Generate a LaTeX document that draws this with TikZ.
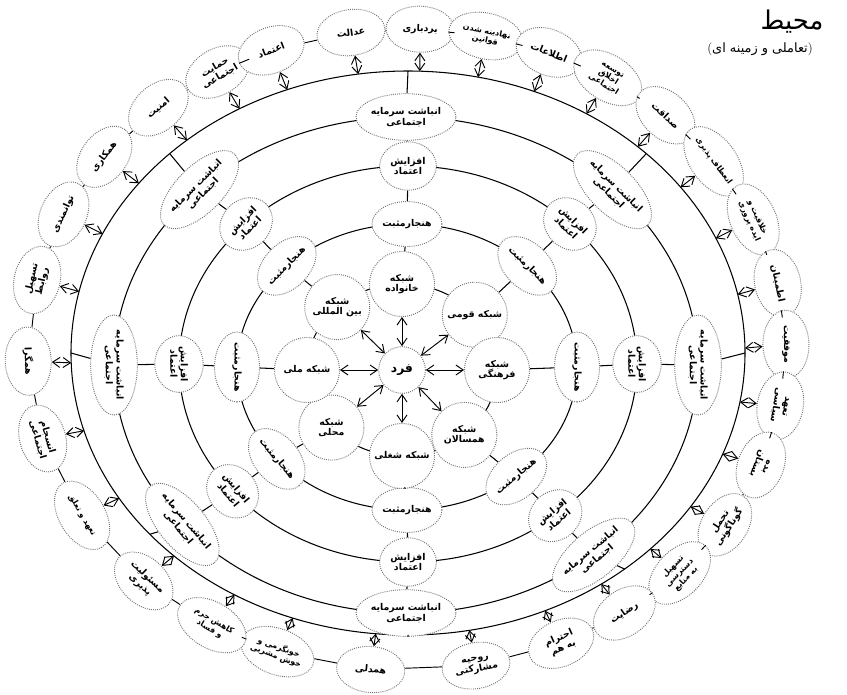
\documentclass[tikz,border=0pt]{standalone}
\usepackage{fontspec}
\newfontfamily\arabicfont[Script=Arabic]{DejaVu Sans}
\TeXXeTstate=1
\usetikzlibrary{shapes.geometric, arrows.meta, calc}
\newcommand{\fa}[1]{{\arabicfont\beginR #1\endR}}

\begin{document}
\begin{tikzpicture}[
    x=0.03cm, y=-0.03cm,
    >={Straight Barb[length=2.2mm, width=3mm]}, % open barb heads on both ends
    font=\fontsize{8}{9}\selectfont\bfseries,
    ring/.style={line width=0.9pt},
    bubble/.style={
        ellipse,
        draw=black!55,
        densely dotted,
        line width=0.8pt,
        fill=white,
        inner sep=0pt,
        align=center
    },
    outnode/.style={bubble, minimum width=2.05cm, minimum height=1.38cm},
    outlong/.style={outnode, minimum width=2.25cm, font=\fontsize{6.8}{7.6}\selectfont\bfseries},
    netnode/.style={bubble, circle, minimum size=1.95cm},
    normnode/.style={bubble, minimum width=1.95cm, minimum height=1.35cm},
    trustnode/.style={bubble, minimum width=1.7cm, minimum height=1.45cm},
    capnode/.style={bubble, minimum width=3cm, minimum height=1.4cm},
    link/.style={<->, line width=0.8pt},
    chain/.style={line width=0.8pt}
]
    \useasboundingbox (0,0) rectangle (847,694);

    % =======================================================
    % Ring centres
    % =======================================================
    \coordinate (c1) at (408,353);
    \coordinate (c2) at (406,365);
    \coordinate (c3) at (408,364);
    \coordinate (c4) at (407,367);
    \coordinate (c5) at (402,370);
    \coordinate (c0) at (407,350);

    % Concentric rings
    \draw[ring] (c1) ellipse [x radius=337, y radius=282];
    \draw[ring] (c2) ellipse [x radius=292, y radius=248];
    \draw[ring] (c3) ellipse [x radius=229, y radius=198];
    \draw[ring] (c4) ellipse [x radius=170, y radius=143];
    \draw[ring] (c5) ellipse [x radius=95, y radius=86];

    % =======================================================
    % Spokes: capital, trust and norm nodes
    % =======================================================
    \foreach \k/\t/\r in {1/-90/0, 2/-45/-45, 3/0/-90, 4/50/40, 5/90/0, 6/140/-50, 7/180/-90, 8/225/45}{
        \coordinate (r\k) at ($(c1)+(\t:337 and 282)$);
        \node[capnode, rotate=\r] (b\k) at ($(c2)+(\t:292 and 248)$) {\fa{انباشت سرمایه}\\\fa{اجتماعی}};
        \node[trustnode, rotate=\r] (a\k) at ($(c3)+(\t:229 and 198)$) {\fa{افزایش}\\\fa{اعتماد}};
        \node[normnode, rotate=\r] (h\k) at ($(c4)+(\t:170 and 143)$) {\fa{هنجارمثبت}};
    }

    % Networks round the individual
    \node[bubble, circle, minimum size=1.4cm] (fard) at (c5) {\fontsize{10.5}{12}\selectfont\fa{فرد}};
    \foreach \k/\t/\txt in {1/-90/{\fa{شبکه}\\\fa{خانواده}},
                            2/-40/{\fa{شبکه قومی}},
                            3/0/{\fa{شبکه}\\\fa{فرهنگی}},
                            4/49/{\fa{شبکه}\\\fa{همسالان}},
                            5/90/{\fa{شبکه شغلی}},
                            6/138/{\fa{شبکه}\\\fa{محلی}},
                            7/180/{\fa{شبکه ملی}},
                            8/227/{\fa{شبکه}\\\fa{بین المللی}}}{
        \node[netnode] (s\k) at ($(c5)+(\t:95 and 86)$) {\txt};
    }

    % Radial links and arrows from the centre
    \foreach \k in {1,...,8}{
        \draw[ring] (s\k) -- (h\k) -- (a\k) -- (b\k) -- (r\k);
        \draw[link] (fard) -- (s\k);
    }

    % =======================================================
    % Outer environment nodes
    % =======================================================
    \foreach \k/\t/\r/\st/\txt in {
        1/-88/-2/outnode/{\fa{بردباری}},
        2/-78/-12/outlong/{\fa{نهادینه شدن}\\\fa{قوانین}},
        3/-68/-22/outnode/{\fa{اطلاعات}},
        4/-58/-32/outlong/{\fa{توسعه}\\\fa{اخلاق}\\\fa{اجتماعی}},
        5/-47/-43/outnode/{\fa{صداقت}},
        6/-36/-54/outlong/{\fa{انعطاف پذیری}},
        7/-24/-66/outlong/{\fa{خلاقیت و}\\\fa{ایده پروری}},
        8/-12/-78/outnode/{\fa{اطمینان}},
        9/-1/-89/outnode/{\fa{موفقیت}},
        10/10/-100/outnode/{\fa{تعهد}\\\fa{سیاسی}},
        11/21/-111/outnode/{\fa{بده}\\\fa{بستان}},
        12/33/57/outnode/{\fa{تحمل}\\\fa{گوناگونی}},
        13/44/46/outlong/{\fa{تسهیل}\\\fa{دسترسی}\\\fa{به منابع}},
        14/55/35/outnode/{\fa{رضایت}},
        15/66/24/outnode/{\fa{احترام}\\\fa{به هم}},
        16/79.5/10/outnode/{\fa{روحیه}\\\fa{مشارکتی}},
        17/95.5/-5/outnode/{\fa{همدلی}},
        18/110/-20/outlong/{\fa{خونگرمی و}\\\fa{خوش مشربی}},
        19/121/-31/outlong/{\fa{کاهش جرم}\\\fa{و فساد}},
        20/134/-44/outnode/{\fa{مسئولیت}\\\fa{پذیری}},
        21/149/-59/outlong/{\fa{تعهد و تعلق}},
        22/164/-74/outnode/{\fa{انسجام}\\\fa{اجتماعی}},
        23/178/-88/outnode/{\fa{همگرا}},
        24/192.6/77/outnode/{\fa{تسهیل}\\\fa{روابط}},
        25/205/65/outnode/{\fa{توانمندی}},
        26/217/53/outnode/{\fa{همکاری}},
        27/229/41/outnode/{\fa{امنیت}},
        28/240/30/outnode/{\fa{حمایت}\\\fa{اجتماعی}},
        29/249/21/outnode/{\fa{اعتماد}},
        30/261.5/8/outnode/{\fa{عدالت}}}{
        \node[\st, rotate=\r] (o\k) at ($(c0)+(\t:379 and 321)$) {\txt};
        \coordinate (q\k) at ($(c1)+(\t:337 and 282)$);
        \draw[link] (o\k) -- (q\k);
    }

    % Chain between neighbouring outer nodes
    \foreach \i [remember=\i as \j (initially 30)] in {1,...,30}{
        \draw[chain] (o\j) -- (o\i);
    }

    % Title
    \node (title) at (792,22) {\fontsize{22}{24}\selectfont\mdseries\fa{محیط}};
    \node (subtitle) at (760,49) {\fontsize{11}{13}\selectfont\mdseries(\fa{تعاملی و زمینه ای})};

\end{tikzpicture}
\end{document}
